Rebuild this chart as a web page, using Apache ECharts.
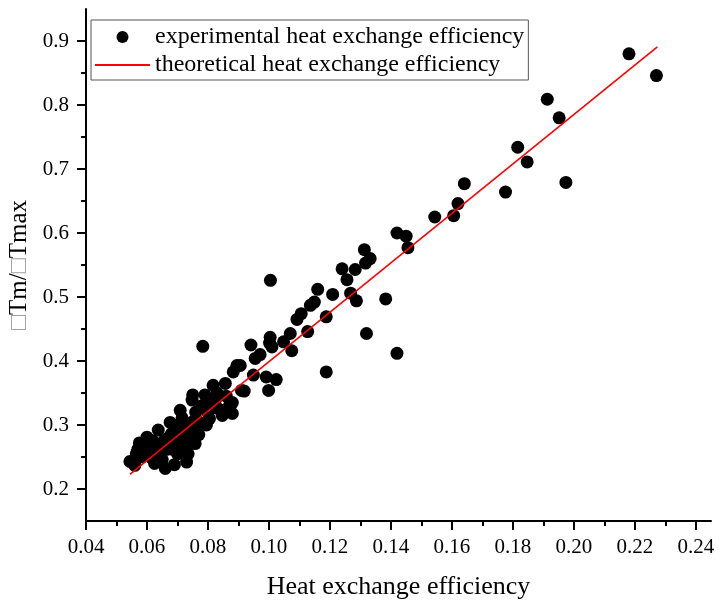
<!DOCTYPE html>
<html>
<head>
<meta charset="utf-8">
<script src="https://cdn.jsdelivr.net/npm/echarts@6/dist/echarts.min.js"></script>
<style>
  html, body { margin: 0; padding: 0; background: #fff; }
  #chart { width: 719px; height: 603px; }
</style>
</head>
<body>
<div id="chart"></div>
<script>
const FONT = "'Liberation Serif', 'Times New Roman', serif";

const seriesNames = ["experimental heat exchange efficiency", "theoretical heat exchange efficiency"];

// measured points [heat exchange efficiency, dTm/dTmax]
const experimental = [
  [0.0544, 0.243], [0.0560, 0.237], [0.0565, 0.255], [0.0570, 0.262], [0.0575, 0.272],
  [0.0585, 0.250], [0.0590, 0.268], [0.0600, 0.281], [0.0610, 0.262], [0.0615, 0.249],
  [0.0620, 0.275], [0.0625, 0.240], [0.0630, 0.270], [0.0637, 0.292], [0.0640, 0.258],
  [0.0650, 0.246], [0.0655, 0.275], [0.0660, 0.232], [0.0665, 0.262], [0.0670, 0.280],
  [0.0676, 0.304], [0.0680, 0.286], [0.0685, 0.262], [0.0690, 0.238], [0.0690, 0.270],
  [0.0695, 0.292], [0.0700, 0.255], [0.0705, 0.300], [0.0709, 0.323], [0.0715, 0.311],
  [0.0715, 0.280], [0.0720, 0.265], [0.0725, 0.300], [0.0730, 0.242], [0.0735, 0.255],
  [0.0740, 0.290], [0.0745, 0.275], [0.0748, 0.339], [0.0750, 0.347], [0.0750, 0.305],
  [0.0758, 0.271], [0.0760, 0.320], [0.0765, 0.295], [0.0770, 0.285], [0.0775, 0.303],
  [0.0780, 0.330], [0.0783, 0.423], [0.0790, 0.347], [0.0795, 0.300], [0.0800, 0.320],
  [0.0805, 0.310], [0.0810, 0.335], [0.0817, 0.362], [0.0825, 0.340], [0.0830, 0.350],
  [0.0835, 0.325], [0.0847, 0.315], [0.0857, 0.365], [0.0860, 0.345], [0.0870, 0.330],
  [0.0880, 0.335], [0.0880, 0.318], [0.0883, 0.383], [0.0895, 0.393], [0.0906, 0.393],
  [0.0910, 0.354], [0.0919, 0.353], [0.0941, 0.425], [0.0949, 0.378], [0.0955, 0.404],
  [0.0971, 0.410], [0.0991, 0.375], [0.0999, 0.354], [0.1002, 0.428], [0.1004, 0.437],
  [0.1005, 0.526], [0.1010, 0.422], [0.1024, 0.371], [0.1048, 0.430], [0.1070, 0.443],
  [0.1075, 0.416], [0.1092, 0.465], [0.1106, 0.474], [0.1127, 0.446], [0.1136, 0.487],
  [0.1149, 0.492], [0.1160, 0.512], [0.1188, 0.469], [0.1188, 0.383], [0.1209, 0.504],
  [0.1240, 0.544], [0.1256, 0.527], [0.1268, 0.506], [0.1283, 0.543], [0.1287, 0.494],
  [0.1313, 0.574], [0.1317, 0.553], [0.1320, 0.443], [0.1332, 0.560], [0.1383, 0.497],
  [0.1420, 0.600], [0.1420, 0.412], [0.1450, 0.595], [0.1456, 0.577], [0.1544, 0.625],
  [0.1606, 0.627], [0.1620, 0.646], [0.1641, 0.677], [0.1776, 0.664], [0.1816, 0.734],
  [0.1847, 0.711], [0.1913, 0.809], [0.1952, 0.780], [0.1974, 0.679], [0.2181, 0.880],
  [0.2271, 0.846]
];

// fitted line end points
const theoretical = [[0.0544, 0.223], [0.2274, 0.891]];

const xMajorTicks = [0.04, 0.06, 0.08, 0.10, 0.12, 0.14, 0.16, 0.18, 0.20, 0.22, 0.24];
const xMinorTicks = [0.05, 0.07, 0.09, 0.11, 0.13, 0.15, 0.17, 0.19, 0.21, 0.23];
const yMajorTicks = [0.2, 0.3, 0.4, 0.5, 0.6, 0.7, 0.8, 0.9];
const yMinorTicks = [0.25, 0.35, 0.45, 0.55, 0.65, 0.75, 0.85];

const axisLine = { show: true, onZero: false, lineStyle: { color: "#000", width: 2 } };

const chart = echarts.init(document.getElementById("chart"));
chart.setOption({
  animation: false,
  grid: { left: 86, right: 8, top: 9, bottom: 82, outerBoundsMode: "none" },
  legend: {
    orient: "vertical",
    left: 91,
    top: 20,
    padding: [5, 4, 3, 3],
    itemGap: 4,
    itemWidth: 55,
    itemHeight: 12,
    borderColor: "#555",
    borderWidth: 1,
    textStyle: { fontFamily: FONT, fontSize: 24, color: "#000", lineHeight: 24 },
    data: seriesNames,
  },
  xAxis: [
    {
      type: "value",
      min: 0.04,
      max: 0.245,
      name: "Heat exchange efficiency",
      nameLocation: "middle",
      nameGap: 53,
      nameMoveOverlap: false,
      nameTextStyle: { fontFamily: FONT, fontSize: 26, color: "#000" },
      axisLine,
      axisTick: { show: true, length: 9, customValues: xMajorTicks, lineStyle: { color: "#000", width: 2 } },
      axisLabel: {
        customValues: xMajorTicks,
        margin: 16,
        fontFamily: FONT,
        fontSize: 21,
        color: "#000",
        formatter: (v) => v.toFixed(2),
      },
      splitLine: { show: false },
    },
    {
      type: "value",
      min: 0.04,
      max: 0.245,
      position: "bottom",
      axisLine: { show: false },
      axisTick: { show: true, length: 5, customValues: xMinorTicks, lineStyle: { color: "#000", width: 2 } },
      axisLabel: { show: false },
      splitLine: { show: false },
    },
  ],
  yAxis: [
    {
      type: "value",
      min: 0.15,
      max: 0.95,
      name: "{g|□}Tm/{g|□}Tmax",
      nameLocation: "middle",
      nameGap: 54,
      nameMoveOverlap: false,
      nameTextStyle: {
        fontFamily: FONT,
        fontSize: 25,
        color: "#000",
        rich: { g: { fontFamily: FONT, fontSize: 25, color: "#a0a0a0" } },
      },
      axisLine,
      axisTick: { show: true, length: 9, customValues: yMajorTicks, lineStyle: { color: "#000", width: 2 } },
      axisLabel: {
        customValues: yMajorTicks,
        margin: 17,
        fontFamily: FONT,
        fontSize: 21,
        color: "#000",
        formatter: (v) => v.toFixed(1),
      },
      splitLine: { show: false },
    },
    {
      type: "value",
      min: 0.15,
      max: 0.95,
      position: "left",
      axisLine: { show: false },
      axisTick: { show: true, length: 5, customValues: yMinorTicks, lineStyle: { color: "#000", width: 2 } },
      axisLabel: { show: false },
      splitLine: { show: false },
    },
  ],
  series: [
    {
      name: seriesNames[0],
      type: "scatter",
      symbol: "circle",
      symbolSize: 13,
      itemStyle: { color: "#000", opacity: 1 },
      emphasis: { disabled: true },
      data: experimental,
      z: 2,
    },
    {
      name: seriesNames[1],
      type: "line",
      symbol: "none",
      itemStyle: { color: "#ff0000", opacity: 0 },
      lineStyle: { color: "#ff0000", width: 1.6, opacity: 1 },
      data: theoretical,
      z: 3,
    },
  ],
});
</script>
</body>
</html>
